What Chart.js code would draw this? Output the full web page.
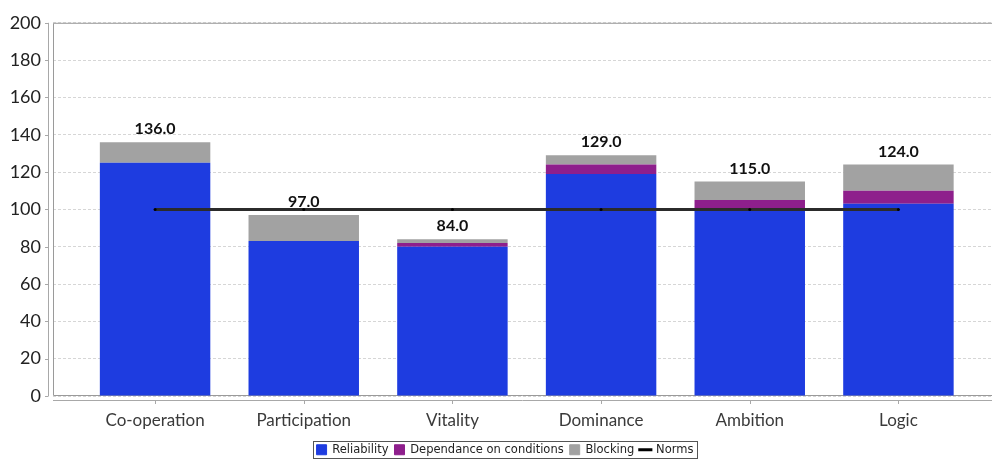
<!DOCTYPE html>
<html>
<head>
<meta charset="utf-8">
<script src="https://cdn.jsdelivr.net/npm/chart.js@4/dist/chart.umd.min.js"></script>
<style>
  html, body { margin: 0; padding: 0; background: #fff; }
  #wrap { width: 996px; height: 462px; position: relative; }
</style>
</head>
<body>
<div id="wrap"><canvas id="c" width="996" height="462"></canvas></div>
<script>
// Scale categories and component scores
const categories = ['Co-operation', 'Participation', 'Vitality', 'Dominance', 'Ambition', 'Logic'];
const reliability = [125, 83, 80, 119, 100, 103];
const dependance = [0, 0, 2, 5, 5, 7];
const blocking = [11, 14, 2, 5, 10, 14];
const norms = [100, 100, 100, 100, 100, 100];
const yTicks = [0, 20, 40, 60, 80, 100, 120, 140, 160, 180, 200];

const totals = categories.map((_, i) => reliability[i] + dependance[i] + blocking[i]);

const COLORS = {
  reliability: '#1e3ce0',
  dependance: '#8e1f8c',
  blocking: '#a2a2a2',
  norms: '#2b2b2b'
};

const PLOT_BOTTOM = 396;   // lower edge of the plot frame
const LEGEND_TOP = 438;
const LEGEND_SHIFT_X = 7;

// Frame, axis lines and tick marks around the plot
const framePlugin = {
  id: 'frame',
  afterLayout(chart) {
    const lg = chart.legend;
    if (!lg) return;
    const h = lg.height;
    lg.top = LEGEND_TOP;
    lg.bottom = LEGEND_TOP + h;
    lg.left += LEGEND_SHIFT_X;
    lg.right += LEGEND_SHIFT_X;
  },
  beforeDatasetsDraw(chart) {
    const { ctx, chartArea: a, scales } = chart;
    ctx.save();
    ctx.strokeStyle = '#9a9a9a';
    ctx.lineWidth = 1;
    ctx.beginPath();
    ctx.moveTo(a.right, a.top + 0.5);
    ctx.lineTo(a.left + 0.5, a.top + 0.5);
    ctx.lineTo(a.left + 0.5, a.bottom - 0.5);
    ctx.lineTo(a.right, a.bottom - 0.5);
    ctx.stroke();
    // value axis line
    ctx.strokeStyle = '#a8a8a8';
    ctx.beginPath();
    ctx.moveTo(a.left - 4.5, a.top);
    ctx.lineTo(a.left - 4.5, a.bottom);
    ctx.stroke();
    yTicks.forEach(v => {
      const y = Math.round(scales.y.getPixelForValue(v)) + 0.5;
      ctx.beginPath();
      ctx.moveTo(a.left - 8, y);
      ctx.lineTo(a.left - 4.5, y);
      ctx.stroke();
    });
    // category axis line
    ctx.beginPath();
    ctx.moveTo(a.left, a.bottom + 4.5);
    ctx.lineTo(a.right, a.bottom + 4.5);
    ctx.stroke();
    categories.forEach((_, i) => {
      const x = Math.round(scales.x.getPixelForValue(i)) + 0.5;
      ctx.beginPath();
      ctx.moveTo(x, a.bottom + 4.5);
      ctx.lineTo(x, a.bottom + 8);
      ctx.stroke();
    });
    ctx.restore();
  }
};

// Totals printed above each stacked bar
const totalsPlugin = {
  id: 'totals',
  afterDatasetsDraw(chart) {
    const { ctx } = chart;
    const meta = chart.getDatasetMeta(2);
    ctx.save();
    ctx.font = 'bold 16px Lato';
    ctx.fillStyle = '#111';
    ctx.textAlign = 'center';
    ctx.textBaseline = 'middle';
    meta.data.forEach((bar, i) => {
      const y = chart.scales.y.getPixelForValue(totals[i]);
      ctx.fillText(totals[i].toFixed(1), bar.x, y - 13);
    });
    ctx.restore();
  }
};

// Border around the legend items
const legendBoxPlugin = {
  id: 'legendBox',
  afterDraw(chart) {
    const boxes = chart.legend && chart.legend.legendHitBoxes;
    if (!boxes || !boxes.length) return;
    let l = Infinity, r = -Infinity, t = Infinity, b = -Infinity;
    boxes.forEach(h => {
      l = Math.min(l, h.left); r = Math.max(r, h.left + h.width);
      t = Math.min(t, h.top); b = Math.max(b, h.top + h.height);
    });
    const { ctx } = chart;
    ctx.save();
    ctx.strokeStyle = '#555';
    ctx.lineWidth = 1;
    ctx.strokeRect(Math.round(l - 4) + 0.5, Math.round(t - 3) + 0.5, Math.round(r - l + 7), Math.round(b - t + 5));
    ctx.restore();
  }
};

new Chart(document.getElementById('c'), {
  data: {
    labels: categories,
    datasets: [
      { type: 'bar', label: 'Reliability', data: reliability, backgroundColor: COLORS.reliability, stack: 's', order: 1 },
      { type: 'bar', label: 'Dependance on conditions', data: dependance, backgroundColor: COLORS.dependance, stack: 's', order: 1 },
      { type: 'bar', label: 'Blocking', data: blocking, backgroundColor: COLORS.blocking, stack: 's', order: 1 },
      { type: 'line', label: 'Norms', data: norms, borderColor: COLORS.norms, borderWidth: 3,
        pointRadius: 1.5, pointBackgroundColor: '#000', pointBorderWidth: 0, stack: 'n', order: 0, tension: 0 }
    ]
  },
  options: {
    responsive: false,
    animation: false,
    layout: { padding: { left: 0, right: 0, top: 19, bottom: 0 } },
    datasets: {
      bar: { categoryPercentage: 1, barPercentage: 0.743, borderWidth: 0 }
    },
    scales: {
      x: {
        stacked: true,
        offset: true,
        grid: { display: false, drawTicks: false },
        border: { display: false },
        ticks: { color: '#3a3a3a', font: { family: 'Lato', size: 17 }, padding: 14, maxRotation: 0 },
        afterBuildTicks(scale) {
          // place the category centres inside a wider plot
          scale._startValue = -0.6866;
          scale._valueRange = 6.316;
        },
        afterFit(scale) {
          const lg = scale.chart.legend;
          scale.height = scale.chart.height - PLOT_BOTTOM - (lg ? lg.height : 0);
        }
      },
      y: {
        stacked: true,
        min: 0,
        max: 200,
        afterBuildTicks(scale) { scale.ticks = yTicks.map(v => ({ value: v })); },
        grid: { color: '#d6d6d6', drawTicks: false },
        border: { display: false, dash: [3, 2] },
        ticks: { color: '#222', font: { family: 'Lato', size: 18 }, padding: 12 },
        afterFit(scale) { scale.width = 53; }
      }
    },
    plugins: {
      tooltip: { enabled: false },
      legend: {
        position: 'bottom',
        labels: {
          color: '#222',
          font: { family: 'DejaVu Sans', size: 11.5 },
          usePointStyle: true,
          boxWidth: 10,
          boxHeight: 10,
          padding: 6,
          generateLabels(chart) {
            return chart.data.datasets.map((ds, i) => {
              const isLine = ds.type === 'line';
              return {
                text: ds.label,
                datasetIndex: i,
                fillStyle: isLine ? '#000' : ds.backgroundColor,
                strokeStyle: isLine ? '#000' : ds.backgroundColor,
                lineWidth: isLine ? 3 : 1,
                pointStyle: isLine ? 'line' : 'rect',
                fontColor: '#222',
                hidden: false
              };
            });
          }
        }
      }
    }
  },
  plugins: [framePlugin, totalsPlugin, legendBoxPlugin]
});
</script>
</body>
</html>
